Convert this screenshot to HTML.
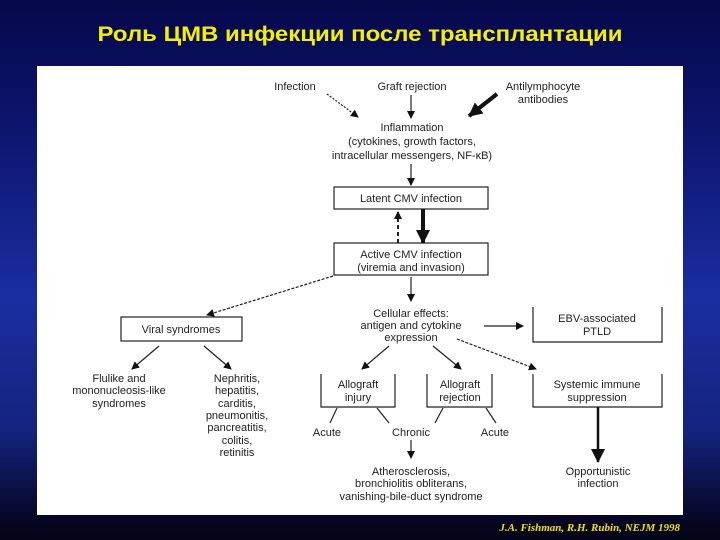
<!DOCTYPE html>
<html><head><meta charset="utf-8"><style>
html,body{margin:0;padding:0;width:720px;height:540px;overflow:hidden}
body{background:linear-gradient(180deg,#06084a 0%,#0d1670 25%,#1a2ea0 55%,#14237e 80%,#050520 97%,#050518 100%)}
svg{position:absolute;left:0;top:0}
.t{font-family:"Liberation Sans",sans-serif;font-size:11px;fill:#222;text-anchor:middle}
</style></head><body>
<svg width="720" height="540" viewBox="0 0 720 540">
<defs>
<marker id="a" markerWidth="8" markerHeight="8" refX="7" refY="4" orient="auto" markerUnits="userSpaceOnUse"><path d="M0,0 L8,4 L0,8 z" fill="#111"/></marker>
<marker id="b" markerWidth="14" markerHeight="14" refX="13" refY="7" orient="auto" markerUnits="userSpaceOnUse"><path d="M0,0 L14,7 L0,14 z" fill="#111"/></marker>
</defs>
<text x="360" y="41" font-family="Liberation Sans,'Noto Sans CJK SC',sans-serif" font-weight="bold" font-size="21" fill="#f5f000" text-anchor="middle" textLength="525" lengthAdjust="spacingAndGlyphs">Роль ЦМВ инфекции после трансплантации</text>
<rect x="37" y="66" width="646" height="449" fill="#fff"/>
<rect x="37" y="66" width="646" height="4" fill="#fbfde8"/>
<g class="t">
<text x="295" y="90">Infection</text>
<text x="412" y="90">Graft rejection</text>
<text x="543" y="90">Antilymphocyte</text>
<text x="543" y="103">antibodies</text>
<text x="412" y="131">Inflammation</text>
<text x="412" y="145">(cytokines, growth factors,</text>
<text x="412" y="159">intracellular messengers, NF-κB)</text>
<text x="411" y="202">Latent CMV infection</text>
<text x="411" y="258">Active CMV infection</text>
<text x="411" y="271">(viremia and invasion)</text>
<text x="411" y="317">Cellular effects:</text>
<text x="411" y="329">antigen and cytokine</text>
<text x="411" y="341">expression</text>
<text x="597" y="322">EBV-associated</text>
<text x="597" y="335">PTLD</text>
<text x="181" y="333">Viral syndromes</text>
<text x="119" y="382">Flulike and</text>
<text x="119" y="394">mononucleosis-like</text>
<text x="119" y="407">syndromes</text>
<text x="237" y="382">Nephritis,</text>
<text x="237" y="394">hepatitis,</text>
<text x="237" y="407">carditis,</text>
<text x="237" y="419">pneumonitis,</text>
<text x="237" y="431">pancreatitis,</text>
<text x="237" y="444">colitis,</text>
<text x="237" y="456">retinitis</text>
<text x="358" y="388">Allograft</text>
<text x="358" y="401">injury</text>
<text x="460" y="388">Allograft</text>
<text x="460" y="401">rejection</text>
<text x="597" y="388">Systemic immune</text>
<text x="597" y="401">suppression</text>
<text x="327" y="436">Acute</text>
<text x="411" y="436">Chronic</text>
<text x="495" y="436">Acute</text>
<text x="411" y="475">Atherosclerosis,</text>
<text x="411" y="487">bronchiolitis obliterans,</text>
<text x="411" y="500">vanishing-bile-duct syndrome</text>
<text x="598" y="475">Opportunistic</text>
<text x="598" y="487">infection</text>
</g>
<g fill="none" stroke="#222" stroke-width="1.2">
<rect x="334" y="187" width="154" height="22"/>
<rect x="334" y="243" width="154" height="32"/>
<rect x="121" y="317" width="121" height="24"/>
<path d="M533,307 V342 H662 V307"/>
<path d="M321,374 V407 H395 V374"/>
<path d="M427,374 V407 H492 V374"/>
<path d="M533,374 V407 H662 V374"/>
<path d="M327,94 L358,117" stroke-dasharray="2,1.5" marker-end="url(#a)"/>
<path d="M411,95 L411,118" marker-end="url(#a)"/>
<path d="M411,164 L411,185" marker-end="url(#a)"/>
<path d="M398,243 L398,212" stroke-width="2" stroke-dasharray="4,3" marker-end="url(#a)"/>
<path d="M333,276 L207,315" stroke-dasharray="3,1.5" marker-end="url(#a)"/>
<path d="M411,277 L411,301" marker-end="url(#a)"/>
<path d="M484,326 L523,326" marker-end="url(#a)"/>
<path d="M159,346 L132,369" marker-end="url(#a)"/>
<path d="M204,346 L231,369" marker-end="url(#a)"/>
<path d="M389,346 L362,369" marker-end="url(#a)"/>
<path d="M433,346 L461,369" marker-end="url(#a)"/>
<path d="M457,339 L536,369" stroke-dasharray="3,1.5" marker-end="url(#a)"/>
<path d="M337,408 L330,423 M377,408 L389,423 M443,408 L435,423 M486,408 L496,423"/>
<path d="M411,440 L411,458" marker-end="url(#a)"/>
</g>
<g fill="none" stroke="#111" stroke-width="4">
<path d="M497,94 L469,116" marker-end="url(#b)"/>
<path d="M423,209 L423,243" marker-end="url(#b)"/>
<path d="M598,407 L598,462" stroke-width="2.5" marker-end="url(#b)"/>
</g>
<text x="680" y="531" font-family="Liberation Serif,serif" font-style="italic" font-weight="bold" font-size="11" fill="#f0e000" text-anchor="end">J.A. Fishman, R.H. Rubin, NEJM 1998</text>
</svg>
</body></html>
